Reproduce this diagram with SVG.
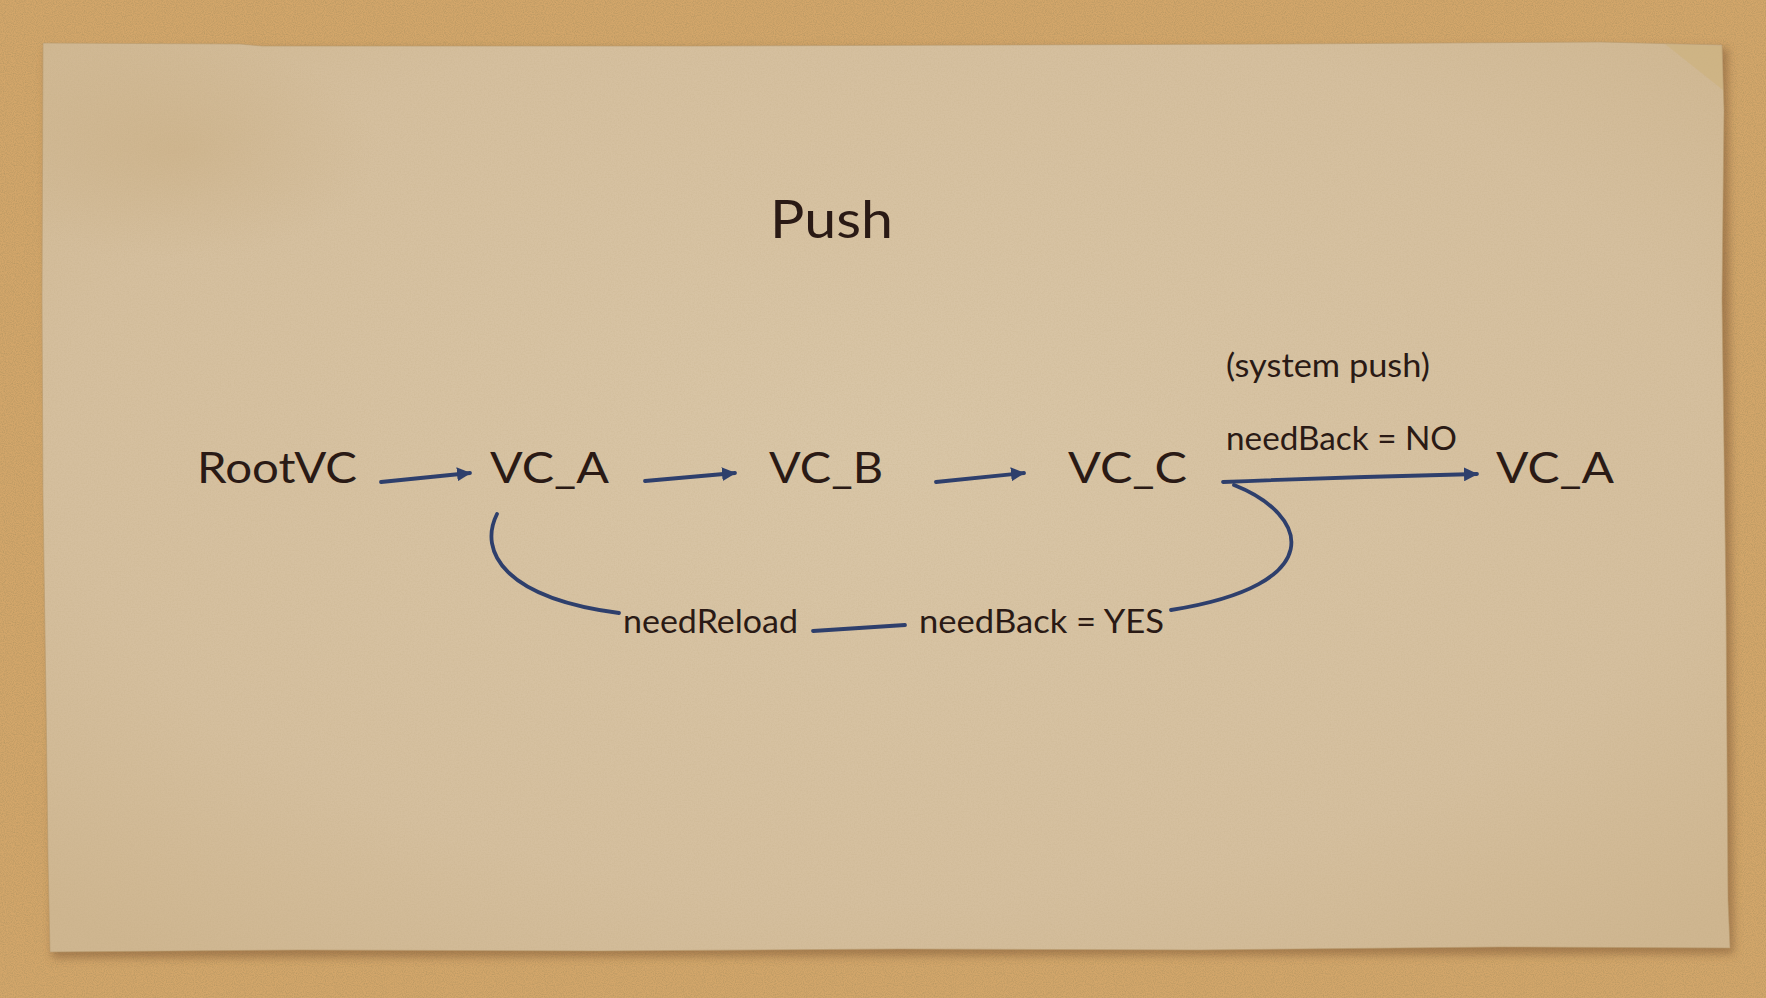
<svg xmlns="http://www.w3.org/2000/svg" width="1766" height="998" viewBox="0 0 1766 998">
  <defs>
    <style>
      .lbl { font-family: "Lato", "Open Sans", "Liberation Sans", sans-serif; fill: #2a1a15; }
      .node { font-size: 43px; }
      .small { font-size: 32px; }
      .title { font-size: 52px; }
      .conn { fill: none; stroke: #2e3f6c; stroke-width: 3.8; stroke-linecap: round; }
    </style>
    <marker id="arrow" viewBox="0 0 14 14" refX="13" refY="7" markerWidth="14" markerHeight="14" markerUnits="userSpaceOnUse" orient="auto">
      <path d="M0,0 L14,7 L0,14 Z" fill="#2e3f6c"/>
    </marker>
    <filter id="grain" x="0" y="0" width="100%" height="100%">
      <feTurbulence type="fractalNoise" baseFrequency="0.9" numOctaves="2" seed="3"/>
      <feColorMatrix type="matrix" values="0 0 0 0 0.45  0 0 0 0 0.3  0 0 0 0 0.12  0 0 0 1.4 -0.5" />
    </filter>
    <filter id="paperGrain" x="0" y="0" width="100%" height="100%">
      <feTurbulence type="fractalNoise" baseFrequency="0.7" numOctaves="2" seed="7"/>
      <feColorMatrix type="matrix" values="0 0 0 0 0.5  0 0 0 0 0.38  0 0 0 0 0.2  0 0 0 0.35 -0.12" />
    </filter>
    <filter id="shadow" x="-5%" y="-5%" width="110%" height="110%">
      <feGaussianBlur stdDeviation="4"/>
    </filter>
    <radialGradient id="paperGrad" cx="0.5" cy="0.45" r="0.7">
      <stop offset="0" stop-color="#d9c6a7"/>
      <stop offset="0.7" stop-color="#d5bf9e"/>
      <stop offset="1" stop-color="#cfb690"/>
    </radialGradient>
    <radialGradient id="stainTL" cx="0.08" cy="0.12" r="0.12">
      <stop offset="0" stop-color="#c4a677" stop-opacity="0.35"/>
      <stop offset="1" stop-color="#c4a677" stop-opacity="0"/>
    </radialGradient>
    <clipPath id="paperClip">
      <path d="M43,43 L240,44 L262,46 L700,46 L1000,45 L1280,44 L1600,42 L1722,45 L1724,110 L1722,300 L1726,600 L1728,900 L1730,948 L1500,947 L1200,950 L900,949 L600,951 L300,950 L50,952 L48,860 L46,700 L43,500 L42,300 L43,43 Z"/>
    </clipPath>
  </defs>

  <!-- cork background -->
  <rect x="0" y="0" width="1766" height="998" fill="#d3a66a"/>
  <rect x="0" y="0" width="1766" height="998" filter="url(#grain)"/>

  <!-- paper shadow -->
  <path d="M46,50 L1728,48 L1734,954 L52,958 Z" fill="#7a5330" opacity="0.5" filter="url(#shadow)"/>

  <!-- paper -->
  <g clip-path="url(#paperClip)">
    <rect x="40" y="40" width="1695" height="915" fill="url(#paperGrad)"/>
    <rect x="40" y="40" width="1695" height="915" fill="url(#stainTL)"/>
    <rect x="40" y="40" width="1695" height="915" filter="url(#paperGrain)"/>
    <!-- folded top-right corner -->
    <path d="M1665,44 L1724,46 L1723,90 Z" fill="#cdb27f" opacity="0.7"/>
  </g>
  <path d="M43,43 L240,44 L262,46 L700,46 L1000,45 L1280,44 L1600,42 L1722,45 L1724,110 L1722,300 L1726,600 L1728,900 L1730,948 L1500,947 L1200,950 L900,949 L600,951 L300,950 L50,952 L48,860 L46,700 L43,500 L42,300 L43,43 Z" fill="none" stroke="#b8996c" stroke-width="1" opacity="0.6"/>

  <!-- nodes -->
  <g id="title">
    <text class="lbl title" x="770" y="238" textLength="123" lengthAdjust="spacingAndGlyphs">Push</text>
  </g>
  <g id="node-rootvc">
    <text class="lbl node" x="197" y="483" textLength="160" lengthAdjust="spacingAndGlyphs">RootVC</text>
  </g>
  <g id="node-vc-a">
    <text class="lbl node" x="490" y="483" textLength="119" lengthAdjust="spacingAndGlyphs">VC_A</text>
  </g>
  <g id="node-vc-b">
    <text class="lbl node" x="769" y="483" textLength="114" lengthAdjust="spacingAndGlyphs">VC_B</text>
  </g>
  <g id="node-vc-c">
    <text class="lbl node" x="1068" y="483" textLength="119" lengthAdjust="spacingAndGlyphs">VC_C</text>
  </g>
  <g id="node-vc-a-2">
    <text class="lbl node" x="1496" y="483" textLength="118" lengthAdjust="spacingAndGlyphs">VC_A</text>
  </g>
  <g id="label-system-push">
    <text class="lbl small" x="1226" y="377" textLength="204" lengthAdjust="spacingAndGlyphs">(system push)</text>
  </g>
  <g id="label-needback-no">
    <text class="lbl small" x="1226" y="450" textLength="231" lengthAdjust="spacingAndGlyphs">needBack = NO</text>
  </g>
  <g id="label-needreload">
    <text class="lbl small" x="623" y="633" textLength="175" lengthAdjust="spacingAndGlyphs">needReload</text>
  </g>
  <g id="label-needback-yes">
    <text class="lbl small" x="919" y="633" textLength="245" lengthAdjust="spacingAndGlyphs">needBack = YES</text>
  </g>

  <!-- connectors -->
  <g id="connectors">
    <path class="conn" d="M381,482 L470,473" marker-end="url(#arrow)"/>
    <path class="conn" d="M645,481 L735,473" marker-end="url(#arrow)"/>
    <path class="conn" d="M936,482 L1024,473" marker-end="url(#arrow)"/>
    <path class="conn" d="M1223,482 Q1350,477 1477,474" marker-end="url(#arrow)"/>
    <path class="conn" d="M497,514 C478,552 505,598 619,613"/>
    <path class="conn" d="M813,631 L905,625"/>
    <path class="conn" d="M1234,485 C1310,515 1330,585 1171,610"/>
  </g>
</svg>
